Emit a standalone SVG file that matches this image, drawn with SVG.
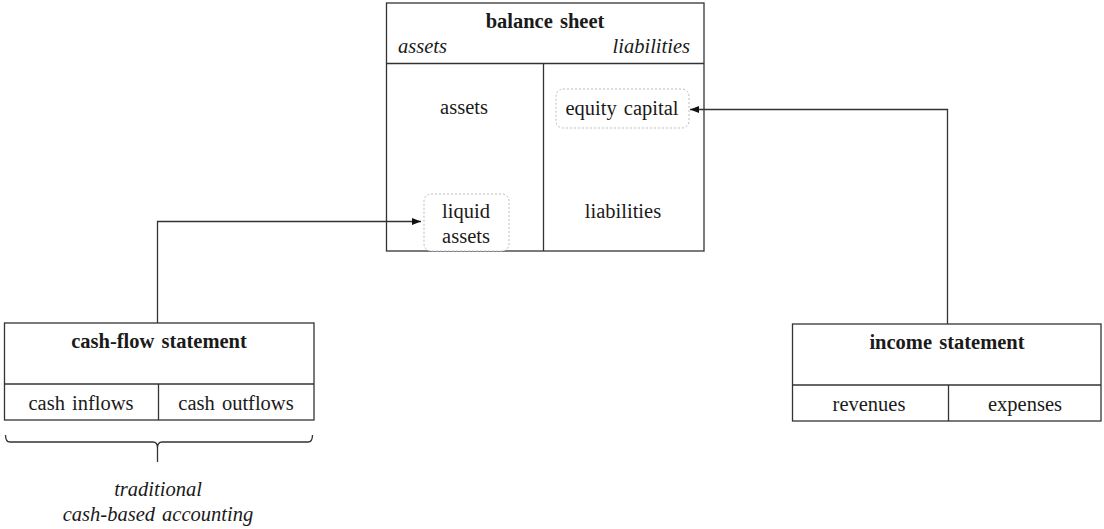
<svg xmlns="http://www.w3.org/2000/svg" width="1104" height="529" viewBox="0 0 1104 529">
<defs>
<style>
.box{fill:#fff;stroke:#333;stroke-width:1.3}
.ln{stroke:#333;stroke-width:1.3;fill:none}
.dash{fill:#fff;stroke:#bbb;stroke-width:1;stroke-dasharray:2 2}
text{font-family:"Liberation Serif","Times New Roman",serif;font-size:20.5px;fill:#1a1a1a;word-spacing:2px}
.b{font-weight:bold}
.i{font-style:italic}
.m{text-anchor:middle}
.e{text-anchor:end}
</style>
<marker id="ah" viewBox="0 0 10 10" refX="10" refY="5" markerWidth="9" markerHeight="9" markerUnits="userSpaceOnUse" orient="auto">
<path d="M0,1 L10,5 L0,9 z" fill="#111"/>
</marker>
</defs>
<rect width="1104" height="529" fill="#fff"/>
<g id="balance-sheet">
<rect class="box" x="386.5" y="3" width="317.5" height="248"/>
<line class="ln" x1="386.5" y1="63.5" x2="704" y2="63.5"/>
<line class="ln" x1="543.5" y1="63.5" x2="543.5" y2="251"/>
<text class="b m" x="545" y="28">balance sheet</text>
<text class="i" x="398" y="53">assets</text>
<text class="i e" x="690" y="53">liabilities</text>
<text class="m" x="464" y="114">assets</text>
<text class="m" x="623" y="218">liabilities</text>
</g>
<g id="equity-capital">
<rect class="dash" x="556" y="89" width="133" height="39" rx="7"/>
<text class="m" x="622" y="115">equity capital</text>
</g>
<g id="liquid-assets">
<rect class="dash" x="424" y="194" width="85" height="57" rx="7"/>
<text class="m" x="466" y="218">liquid</text>
<text class="m" x="466" y="243">assets</text>
</g>
<g id="cash-flow-statement">
<rect class="box" x="4.5" y="323" width="309.5" height="97"/>
<line class="ln" x1="4.5" y1="384" x2="314" y2="384"/>
<line class="ln" x1="158.5" y1="384" x2="158.5" y2="420"/>
<text class="b m" x="159" y="348">cash-flow statement</text>
<text class="m" x="81" y="410">cash inflows</text>
<text class="m" x="236" y="410">cash outflows</text>
</g>
<g id="income-statement">
<rect class="box" x="792.5" y="324" width="308.5" height="97"/>
<line class="ln" x1="792.5" y1="385" x2="1101" y2="385"/>
<line class="ln" x1="948.5" y1="385" x2="948.5" y2="421"/>
<text class="b m" x="947" y="349">income statement</text>
<text class="m" x="869" y="411">revenues</text>
<text class="m" x="1025" y="411">expenses</text>
</g>
<g id="cash-based-accounting">
<path class="ln" d="M5.5,435 Q5.5,442 10,442 L153,442 Q157.5,442 157.5,448 L157.5,462 M157.5,448 Q157.5,442 162,442 L308,442 Q312.5,442 312.5,435" stroke-width="1"/>
<text class="i m" x="158" y="496">traditional</text>
<text class="i m" x="158" y="521">cash-based accounting</text>
</g>
<g id="connectors">
<path class="ln" d="M157.5,323 L157.5,221.5 L421,221.5" marker-end="url(#ah)"/>
<path class="ln" d="M947.5,324 L947.5,109.5 L690,109.5" marker-end="url(#ah)"/>
</g>
</svg>
